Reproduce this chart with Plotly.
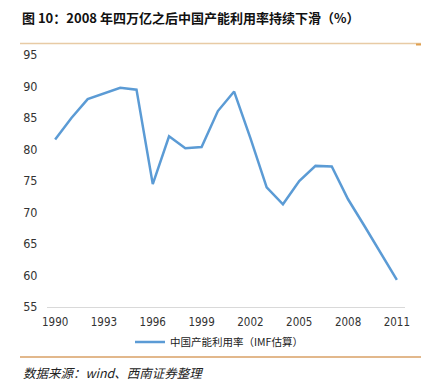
import plotly.graph_objects as go

years = list(range(1990, 2012))
utilization = [81.6, 85.0, 88.0, 88.9, 89.8, 89.5, 74.5, 82.1, 80.2, 80.4, 86.1, 89.2,
               81.8, 74.0, 71.3, 75.0, 77.4, 77.3, 72.1, 67.9, 63.5, 59.3]
x_ticks = [1990, 1993, 1996, 1999, 2002, 2005, 2008, 2011]
y_ticks = [55, 60, 65, 70, 75, 80, 85, 90, 95]
series_name = "中国产能利用率（IMF估算）"
title_text = "图 10：2008 年四万亿之后中国产能利用率持续下滑（%）"
source_text = "数据来源：wind、西南证券整理"

W, H = 431, 384
L, R, T, B = 47, 26, 55, 77
pw = W - L - R
ph = H - T - B

def px(x):
    return (x - L) / pw

def py(y):
    return (H - B - y) / ph

fig = go.Figure()
fig.add_trace(go.Scatter(
    x=years, y=utilization, mode="lines", name=series_name,
    line=dict(color="#5B9BD5", width=2.5),
))

cjk = "Noto Sans CJK SC"
tickfont = "Liberation Sans Narrow, DejaVu Sans Condensed, Noto Sans CJK SC"

fig.update_layout(
    width=W, height=H,
    margin=dict(l=L, r=R, t=T, b=B, pad=0),
    paper_bgcolor="white", plot_bgcolor="white",
    showlegend=True,
    legend=dict(orientation="h", x=px(130), y=py(342), xanchor="left", yanchor="middle",
                font=dict(family=cjk, size=10.5, color="#222"), itemwidth=30,
                bgcolor="rgba(0,0,0,0)"),
    xaxis=dict(range=[1989.5, 2011.5], tickvals=x_ticks, ticktext=[str(v) for v in x_ticks],
               showgrid=False, zeroline=False, showline=True, linecolor="#D9D9D9", linewidth=1,
               ticks="outside", ticklen=4, tickcolor="rgba(0,0,0,0)",
               tickfont=dict(family=tickfont, size=11.5, color="#333")),
    yaxis=dict(range=[55, 95], tickvals=y_ticks, showgrid=False, zeroline=False, showline=False,
               ticks="outside", ticklen=6, tickcolor="rgba(0,0,0,0)",
               tickfont=dict(family=tickfont, size=12.5, color="#333")),
    annotations=[
        dict(text="<b>" + title_text + "</b>", x=px(20), y=py(17), xref="paper", yref="paper",
             xanchor="left", yanchor="middle", showarrow=False,
             font=dict(family=cjk, size=13, color="#111")),
        dict(text="<i>" + source_text + "</i>", x=px(21), y=py(372), xref="paper", yref="paper",
             xanchor="left", yanchor="middle", showarrow=False,
             font=dict(family=cjk, size=12.5, color="#222")),
    ],
    shapes=[
        dict(type="line", xref="paper", yref="paper", x0=px(20), x1=px(421), y0=py(43.5), y1=py(43.5),
             line=dict(color="#E8CBA5", width=1.5)),
        dict(type="line", xref="paper", yref="paper", x0=px(416), x1=px(421), y0=py(44.5), y1=py(44.5),
             line=dict(color="#E0A050", width=2)),
        dict(type="line", xref="paper", yref="paper", x0=px(20), x1=px(421), y0=py(357), y1=py(357),
             line=dict(color="#D9A066", width=1.5)),
    ],
)

fig.write_html("out.html", config={"displayModeBar": False},
               post_script="document.body.style.margin='0';document.body.style.overflow='hidden';")
